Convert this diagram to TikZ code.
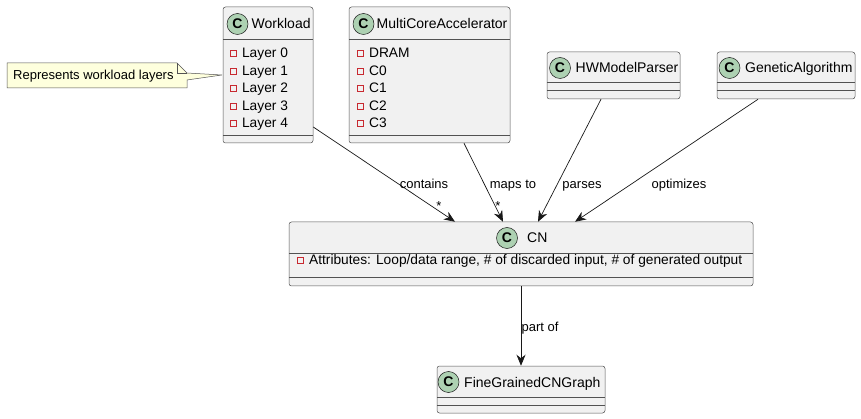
\documentclass[tikz,border=0pt]{standalone}
\usepackage{fontspec}
\setmainfont{Liberation Sans}
\usepackage{tikz}
\usetikzlibrary{arrows.meta}

\definecolor{boxfill}{HTML}{F1F1F1}
\definecolor{boxline}{HTML}{181818}
\definecolor{spotfill}{HTML}{ADD1B2}
\definecolor{notefill}{HTML}{FEFFDD}
\definecolor{privred}{HTML}{C82930}

\newcommand{\privmark}{\tikz[baseline=-1.5pt]\draw[privred,line width=0.9pt] (0,0) rectangle (6pt,6pt);\hspace{5pt}}

\tikzset{
  classbox/.style={draw=boxline!75,fill=boxfill,line width=0.5pt,rounded corners=2.5pt,inner sep=0pt},
  classline/.style={draw=boxline!75,line width=0.5pt},
  spot/.style={circle,draw=boxline,fill=spotfill,line width=0.5pt,minimum size=21pt,inner sep=0pt,font=\fontsize{14}{14}\selectfont\bfseries},
  classname/.style={anchor=base west,inner sep=0pt,font=\fontsize{14}{16}\selectfont},
  member/.style={anchor=base west,inner sep=0pt,font=\fontsize{13.75}{16}\selectfont},
  relname/.style={anchor=base,inner sep=0pt,font=\fontsize{13}{15}\selectfont},
  assoc/.style={draw=boxline,line width=0.7pt,-{Stealth[length=11pt,width=9pt,inset=3.5pt]}}
}

\begin{document}
\begin{tikzpicture}[x=1pt,y=-1pt]
  \useasboundingbox (0,0) rectangle (861,419);

  % note
  \draw[draw=boxline!75,fill=notefill,line width=0.5pt] (7,63) -- (177,63) -- (187,73) -- (222,75) -- (187,80) -- (187,88) -- (7,88) -- cycle;
  \draw[draw=boxline!75,line width=0.5pt] (177,63) -- (177,73) -- (187,73);
  \node[anchor=base west,inner sep=0pt,font=\fontsize{13}{15}\selectfont] (note) at (13,79.7) {Represents workload layers};

  % Workload
  \node[classbox,minimum width=90,minimum height=136] (wl) at (268,75) {};
  \draw[classline] (wl.west |- 0,39) -- (wl.east |- 0,39);
  \draw[classline] (wl.west |- 0,135) -- (wl.east |- 0,135);
  \node[spot] (wlc) at (237.5,24) {C};
  \node[classname] (wln) at (251.5,29) {Workload};
  \node[member] (wl0) at (230,58) {\privmark Layer 0};
  \node[member] (wl1) at (230,75.5) {\privmark Layer 1};
  \node[member] (wl2) at (230,93) {\privmark Layer 2};
  \node[member] (wl3) at (230,110.5) {\privmark Layer 3};
  \node[member] (wl4) at (230,128) {\privmark Layer 4};

  % MultiCoreAccelerator
  \node[classbox,minimum width=161,minimum height=136] (mca) at (429.5,75) {};
  \draw[classline] (mca.west |- 0,39) -- (mca.east |- 0,39);
  \draw[classline] (mca.west |- 0,135) -- (mca.east |- 0,135);
  \node[spot] (mcac) at (363.5,24) {C};
  \node[classname] (mcan) at (376.5,29) {MultiCoreAccelerator};
  \node[member] (mca0) at (357,58) {\privmark DRAM};
  \node[member] (mca1) at (357,75.5) {\privmark C0};
  \node[member] (mca2) at (357,93) {\privmark C1};
  \node[member] (mca3) at (357,110.5) {\privmark C2};
  \node[member] (mca4) at (357,128) {\privmark C3};

  % HWModelParser
  \node[classbox,minimum width=133,minimum height=47] (hw) at (613.5,75.5) {};
  \draw[classline] (hw.west |- 0,82) -- (hw.east |- 0,82);
  \draw[classline] (hw.west |- 0,90) -- (hw.east |- 0,90);
  \node[spot] (hwc) at (560,68) {C};
  \node[classname] (hwn) at (575.5,73) {HWModelParser};

  % GeneticAlgorithm
  \node[classbox,minimum width=138,minimum height=47] (ga) at (786,75.5) {};
  \draw[classline] (ga.west |- 0,82) -- (ga.east |- 0,82);
  \draw[classline] (ga.west |- 0,90) -- (ga.east |- 0,90);
  \node[spot] (gac) at (729.5,68) {C};
  \node[classname] (gan) at (745,73) {GeneticAlgorithm};

  % CN
  \node[classbox,minimum width=464,minimum height=64] (cn) at (521,254) {};
  \draw[classline] (cn.west |- 0,253) -- (cn.east |- 0,253);
  \draw[classline] (cn.west |- 0,277) -- (cn.east |- 0,277);
  \node[spot] (cnc) at (507,238) {C};
  \node[classname] (cnn) at (527,243) {CN};
  \node[member] (cn0) at (297,264.5) {\privmark Attributes: Loop/data range, \# of discarded input, \# of generated output};

  % FineGrainedCNGraph
  \node[classbox,minimum width=168,minimum height=47] (fg) at (521,389.5) {};
  \draw[classline] (fg.west |- 0,397) -- (fg.east |- 0,397);
  \draw[classline] (fg.west |- 0,405) -- (fg.east |- 0,405);
  \node[spot] (fgc) at (448.5,382) {C};
  \node[classname] (fgn) at (464,387) {FineGrainedCNGraph};

  % relations
  \draw[assoc] ([yshift=-52pt]wl.east) -- ([xshift=-66pt]cn.north);
  \draw[assoc] ([xshift=34.5pt]mca.south) -- ([xshift=-18pt]cn.north);
  \draw[assoc] ([xshift=-12.5pt]hw.south) -- ([xshift=17pt]cn.north);
  \draw[assoc] ([xshift=-28pt]ga.south) -- ([xshift=54pt]cn.north);
  \draw[assoc] (cn.south) -- (fg.north);

  \node[relname] (lcont) at (424,188.5) {contains};
  \node[relname] (lcontm) at (439,210.5) {*};
  \node[relname] (lmaps) at (513,188.5) {maps to};
  \node[relname] (lmapsm) at (498,210.5) {*};
  \node[relname] (lparse) at (582,188.5) {parses};
  \node[relname] (lopt) at (679,188.5) {optimizes};
  \node[relname] (lpart) at (540,331.5) {part of};
\end{tikzpicture}
\end{document}
